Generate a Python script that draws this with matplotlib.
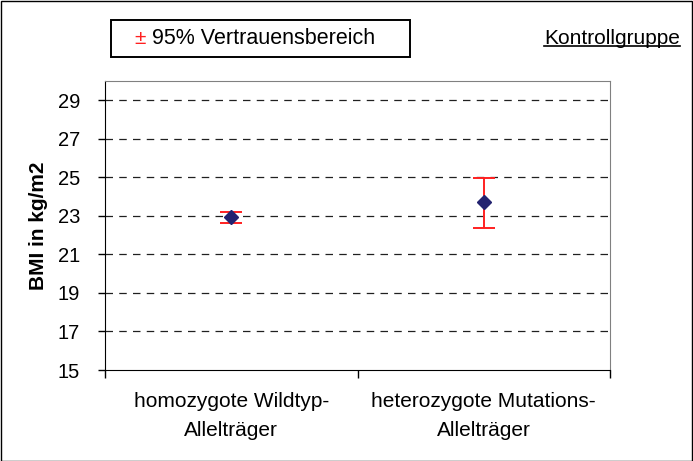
import matplotlib
matplotlib.use("Agg")
import matplotlib.pyplot as plt
from matplotlib.patches import Rectangle

plt.rcParams['font.family'] = ['Liberation Sans', 'DejaVu Sans']

categories = ["homozygote Wildtyp-\nAlleltr\u00e4ger", "heterozygote Mutations-\nAlleltr\u00e4ger"]
means = [22.95, 23.7]
lower = [22.65, 22.35]
upper = [23.2, 24.95]
yticks = [15, 17, 19, 21, 23, 25, 27, 29]

FS = 15

fig = plt.figure(figsize=(6.93, 4.61), dpi=100)
fig.patches.append(Rectangle((0.001, 0.001), 0.997, 0.997, transform=fig.transFigure,
                             fill=False, edgecolor='black', linewidth=1.0))
ax = fig.add_axes([105/693, 1-370/461, (610-105)/693, (370-81)/461])

xpos = [0.5, 1.5]
yerr = [[m - l for m, l in zip(means, lower)], [u - m for m, u in zip(means, upper)]]
ax.errorbar(xpos, means, yerr=yerr, fmt='none', ecolor='#FF2020', elinewidth=1.4,
            capsize=8, capthick=1.4, zorder=3)
ax.plot(xpos, means, linestyle='none', marker='D', markersize=7,
        color='#232370', zorder=4)

ax.set_xlim(0, 2)
ax.set_ylim(15, 30)
ax.set_yticks(yticks)
ax.set_yticklabels([str(t) for t in yticks], fontsize=14.5)
for t in yticks[1:]:
    ax.axhline(t, color='#202020', linestyle=(0, (6, 5)), linewidth=0.9, zorder=1)

ax.set_xticks([0, 1, 2])
ax.set_xticklabels([])
ax.tick_params(axis='x', direction='out', length=6, width=1)
ax.tick_params(axis='y', direction='out', length=5, width=1, pad=13)
for x, lab in zip(xpos, categories):
    ax.text(x, -0.075, lab, transform=ax.get_xaxis_transform(), ha='center', va='top',
            fontsize=FS, linespacing=1.7)

ax.spines['left'].set_color('black')
ax.spines['bottom'].set_color('black')
ax.spines['top'].set_color('#808080')
ax.spines['right'].set_color('#808080')

ax.set_ylabel('BMI in kg/m2', fontsize=FS, fontweight='bold', labelpad=7)

# legend-like box
fig.patches.append(Rectangle((111/693, 1-57/461), (410-111)/693, 37/461, transform=fig.transFigure,
                             fill=False, edgecolor='black', linewidth=1.4))
fig.text(134/693, 1-38/461, '\u00b1', color='#FF2020', fontsize=FS, va='center', ha='left')
fig.text(152/693, 1-38/461, '95% Vertrauensbereich', color='black', fontsize=FS + 0.5,
         va='center', ha='left')

t = fig.text(680/693, 1-38/461, 'Kontrollgruppe', fontsize=FS, va='center', ha='right')
fig.canvas.draw()
bb = t.get_window_extent()
x0, x1 = bb.x0 / fig.bbox.width, bb.x1 / fig.bbox.width
yl = (bb.y0 + 1) / fig.bbox.height
fig.add_artist(plt.Line2D([x0, x1], [yl, yl], transform=fig.transFigure, color='black', linewidth=1.2))

fig.savefig('out.png', dpi=100)
